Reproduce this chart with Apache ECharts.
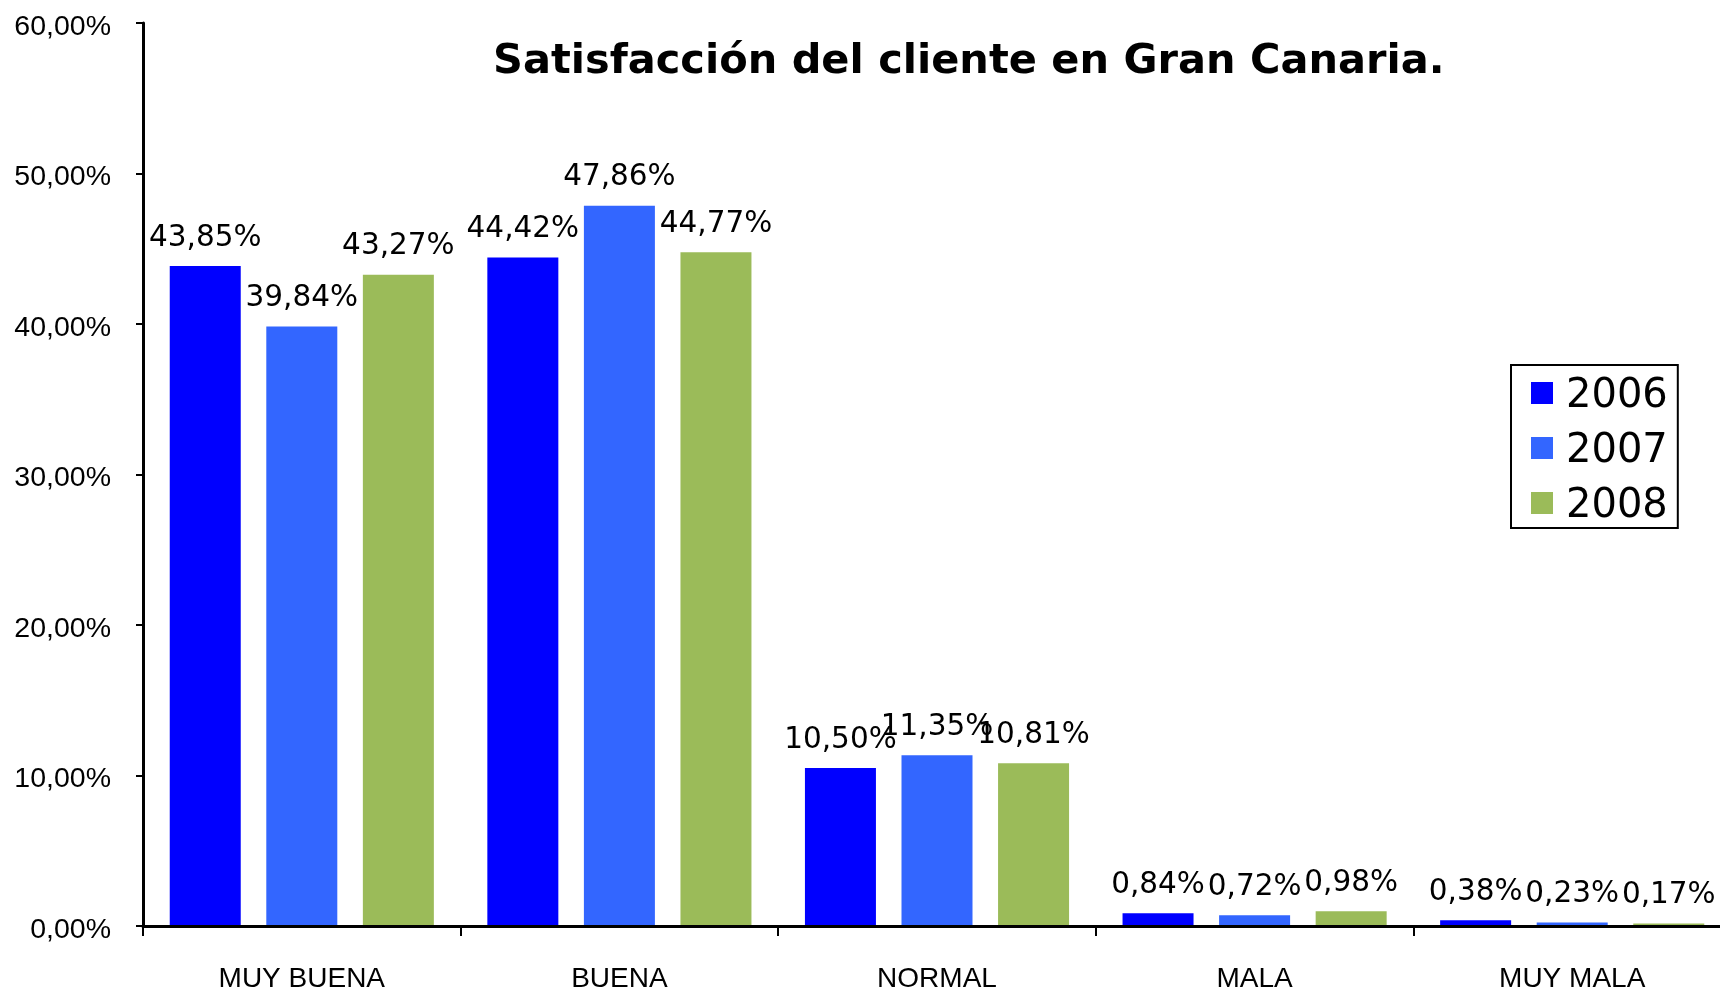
<!DOCTYPE html>
<html>
<head>
<meta charset="utf-8">
<title>Satisfacción del cliente en Gran Canaria</title>
<script src="https://cdn.jsdelivr.net/npm/echarts@6/dist/echarts.min.js"></script>
<style>
    html, body { margin: 0; padding: 0; background: #fff; }
    #chartdiv { width: 1720px; height: 990px; }
</style>
</head>
<body>
<div id="chartdiv"></div>
<script>
    // datos
    var categorias = ['MUY BUENA', 'BUENA', 'NORMAL', 'MALA', 'MUY MALA'];
    var anios = ['2006', '2007', '2008'];
    var valores2006 = [43.85, 44.42, 10.50, 0.84, 0.38];
    var valores2007 = [39.84, 47.86, 11.35, 0.72, 0.23];
    var valores2008 = [43.27, 44.77, 10.81, 0.98, 0.17];
    var colores = ['#0000FF', '#3366FF', '#9BBB59'];

    function porcentaje(v) {
        return v.toFixed(2).replace('.', ',') + '%';
    }

    var datos = [valores2006, valores2007, valores2008];
    var series = [];
    for (var i = 0; i < anios.length; i++) {
        series.push({
            name: anios[i],
            type: 'bar',
            data: datos[i],
            barWidth: 71,
            barGap: '36%',
            itemStyle: { color: colores[i] },
            label: {
                show: true,
                position: 'top',
                distance: 13,
                color: '#000',
                fontFamily: 'DejaVu Sans',
                fontSize: 29.5,
                formatter: function (p) { return porcentaje(p.value); }
            }
        });
    }

    var chart = echarts.init(document.getElementById('chartdiv'));
    var option = {
        animation: false,
        backgroundColor: '#fff',
        title: {
            text: 'Satisfacción del cliente en Gran Canaria.',
            left: 493,
            top: 41,
            padding: 0,
            textStyle: {
                fontFamily: 'DejaVu Sans',
                fontWeight: 'bold',
                fontSize: 41.5,
                color: '#000'
            }
        },
        legend: {
            orient: 'vertical',
            left: 1511,
            top: 365,
            padding: [4, 10, 1, 20],
            itemGap: 7,
            itemWidth: 22,
            itemHeight: 22,
            icon: 'rect',
            borderColor: '#000',
            borderWidth: 2,
            formatter: '{a|{name}}',
            textStyle: {
                rich: {
                    a: {
                        fontFamily: 'DejaVu Sans',
                        fontSize: 40,
                        lineHeight: 40,
                        color: '#000',
                        padding: [8, 0, 0, 8]
                    }
                }
            },
            data: anios
        },
        grid: {
            left: 143,
            right: -11,
            top: 23,
            bottom: 64,
            containLabel: false,
            outerBoundsMode: 'none'
        },
        xAxis: {
            type: 'category',
            data: categorias,
            z: 5,
            axisLine: { lineStyle: { color: '#000', width: 3 } },
            axisTick: { show: true, length: 10, lineStyle: { color: '#000', width: 2 } },
            axisLabel: {
                margin: 39,
                color: '#000',
                fontFamily: 'Liberation Sans',
                fontSize: 28
            }
        },
        yAxis: {
            type: 'value',
            min: 0,
            max: 60,
            interval: 10,
            axisLine: { show: true, lineStyle: { color: '#000', width: 3 } },
            axisTick: { show: true, length: 7, lineStyle: { color: '#000', width: 2 } },
            splitLine: { show: false },
            axisLabel: {
                margin: 32,
                formatter: function (v) { return '{p|' + porcentaje(v) + '}'; },
                rich: {
                    p: {
                        color: '#000',
                        fontFamily: 'Liberation Sans',
                        fontSize: 28.5,
                        padding: [8, 0, 0, 0]
                    }
                }
            }
        },
        series: series
    };

    chart.setOption(option, true);
</script>
</body>
</html>
